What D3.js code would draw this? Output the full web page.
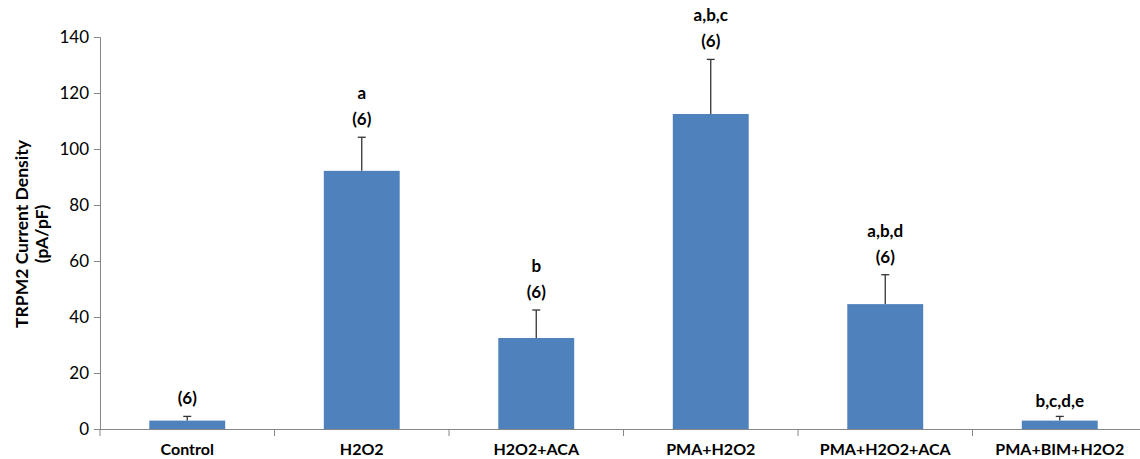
<!DOCTYPE html>
<html><head><meta charset="utf-8">
<script src="https://cdn.jsdelivr.net/npm/d3@7"></script>
<style>body{margin:0;background:#fff}svg{display:block}</style>
</head><body>
<svg id="c" width="1140" height="459"></svg>
<script>
const categories = ["Control","H2O2","H2O2+ACA","PMA+H2O2","PMA+H2O2+ACA","PMA+BIM+H2O2"];
const means = [3, 92.2, 32.5, 112.5, 44.6, 3];
const errors = [1.5, 12, 10, 19.5, 10.5, 1.5];
const nLabels = ["(6)","(6)","(6)","(6)","(6)",""];
const sigLabels = ["","a","b","a,b,c","a,b,d","b,c,d,e"];
const yTicks = [0,20,40,60,80,100,120,140];

const svg = d3.select("#c");
const font = "Lato, 'Open Sans', sans-serif";
const x = d3.scaleBand().domain(categories).range([100,1147]).paddingInner(0.565).paddingOuter(0.2825);
const y = d3.scaleLinear().domain([0,140]).range([429,37]);
const axisColor = "#868686";

// y axis
const ya = svg.append("g").attr("transform","translate(100,0)")
  .call(d3.axisLeft(y).tickValues(yTicks).tickSize(6).tickPadding(5));
ya.select(".domain").attr("stroke",axisColor);
ya.selectAll(".tick line").attr("stroke",axisColor);
ya.selectAll("text").attr("font-family",font).attr("font-size",17).attr("fill","#000");

// bars
svg.selectAll("rect.bar").data(categories).join("rect")
  .attr("x",d=>x(d)).attr("width",x.bandwidth())
  .attr("y",(d,i)=>y(means[i])).attr("height",(d,i)=>y(0)-y(means[i]))
  .attr("fill","#4F81BD");

// error bars
categories.forEach((c,i)=>{
  const cx = x(c)+x.bandwidth()/2;
  const top = y(means[i]+errors[i]);
  svg.append("line").attr("x1",cx).attr("x2",cx).attr("y1",y(means[i])).attr("y2",top)
    .attr("stroke","#333").attr("stroke-width",1.3);
  svg.append("line").attr("x1",cx-4).attr("x2",cx+4).attr("y1",top).attr("y2",top)
    .attr("stroke","#333").attr("stroke-width",1.3);
  let ly = top - 12;
  if (nLabels[i]) {
    svg.append("text").attr("x",cx).attr("y",ly).attr("text-anchor","middle")
      .attr("font-family",font).attr("font-weight","bold").attr("font-size",17).text(nLabels[i]);
    ly -= 26;
  } else { ly = top - 9; }
  if (sigLabels[i]) {
    svg.append("text").attr("x",cx).attr("y",ly).attr("text-anchor","middle")
      .attr("font-family",font).attr("font-weight","bold").attr("font-size",17).text(sigLabels[i]);
  }
});

// x axis
const step = x.step();
const boundaries = d3.range(categories.length+1).map(i=>100 + i*step);
svg.append("line").attr("x1",100).attr("x2",1147).attr("y1",429.5).attr("y2",429.5).attr("stroke",axisColor);
svg.selectAll("line.xt").data(boundaries).join("line")
  .attr("x1",d=>d).attr("x2",d=>d).attr("y1",429.5).attr("y2",436).attr("stroke",axisColor);
svg.selectAll("text.xl").data(categories).join("text")
  .attr("x",d=>x(d)+x.bandwidth()/2).attr("y",455).attr("text-anchor","middle")
  .attr("font-family",font).attr("font-weight","bold").attr("font-size",16).text(d=>d);

// y title
const yt = svg.append("text").attr("transform","translate(28,234) rotate(-90)")
  .attr("text-anchor","middle").attr("font-family",font).attr("font-weight","bold").attr("font-size",17.5);
yt.append("tspan").attr("x",0).attr("dy",0).text("TRPM2 Current Density");
yt.append("tspan").attr("x",0).attr("dy",20).text("(pA/pF)");
</script>
</body></html>
